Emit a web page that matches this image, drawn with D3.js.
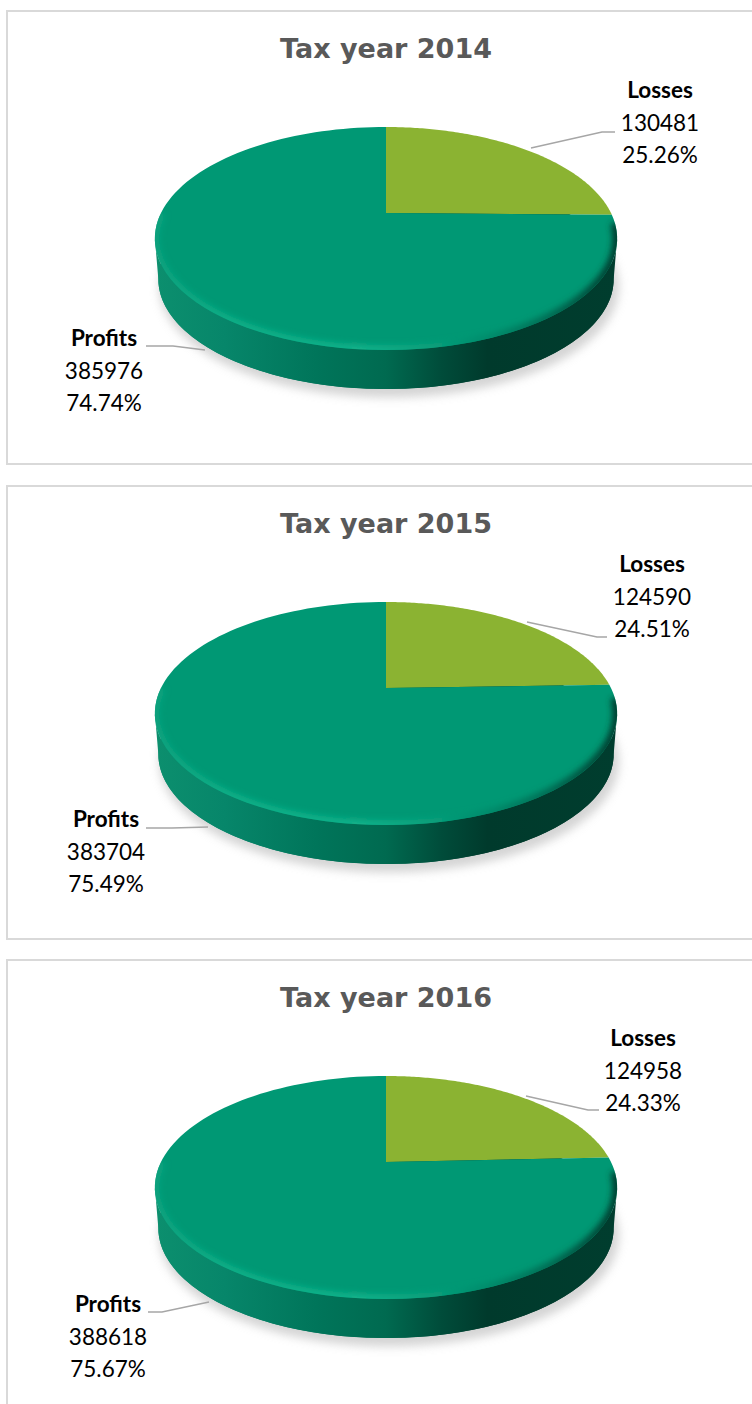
<!DOCTYPE html>
<html><head><meta charset="utf-8">
<script src="https://cdn.jsdelivr.net/npm/d3@7"></script>
<style>html,body{margin:0;padding:0;background:#fff;overflow:hidden}svg{display:block}</style>
</head><body><svg id="c" width="752" height="1404"></svg>
<script>
// ---- data
const titles = ["Tax year 2014", "Tax year 2015", "Tax year 2016"];
const categories = ["Losses", "Profits"];
const lossValues = [130481, 124590, 124958];
const profitValues = [385976, 383704, 388618];
const lossColor = "#8bb332";
const profitColor = "#009874";

// ---- layout
const panelTop = [11, 486, 960];
const labelLayout = [
  {lossX:660, lossY:98,  profitX:104, profitY:346,
   lossLine:[[531,148],[602,132],[615,132]], profitLine:[[146,346],[173,346],[205,350]]},
  {lossX:652, lossY:572, profitX:106, profitY:827,
   lossLine:[[527,622],[597,637],[607,637]], profitLine:[[146,828],[172,828],[208,827]]},
  {lossX:643, lossY:1046,profitX:108, profitY:1312,
   lossLine:[[526,1096],[588,1110],[599,1110]], profitLine:[[148,1312],[162,1312],[209,1302]]}
];
const W = 752;
const svg = d3.select("#c");
const defs = svg.append("defs");

// perspective projection of the unit disc (angle clockwise from the top)
const cx = 386, apexOffset = 213, persp = 0.229, radX = 225, radY = 105.7;
function project(theta, scale = 1, dy = 0) {
  const u = Math.sin(theta), v = Math.cos(theta), w = 1 + persp * v;
  return [cx + scale * radX * u / w, apexOffset + dy - scale * radY * v / w];
}
const line = d3.line();
const arcPts = (a0, a1, scale, dy) => d3.range(0, 121).map(i => project(a0 + (a1 - a0) * i / 120, scale, dy));
const TAU = Math.PI * 2;

// gradients
function hGrad(id, stops) {
  const g = defs.append("linearGradient").attr("id", id).attr("gradientUnits", "userSpaceOnUse")
    .attr("x1", 155).attr("x2", 617).attr("y1", 0).attr("y2", 0);
  stops.forEach(s => g.append("stop").attr("offset", s[0]).attr("stop-color", s[1]));
}
hGrad("side", [[0,"#0c8f6e"],[0.15,"#07866a"],[0.35,"#00755a"],[0.5,"#006a50"],[0.62,"#004c3a"],[0.72,"#003a2c"],[1,"#003d2e"]]);
hGrad("rim", [[0,"#0aa37f"],[0.15,"#0eb088"],[0.45,"#12b48c"],[0.6,"#08a07c"],[0.72,"#008a6a"],[0.85,"#006a52"],[1,"#00382b"]]);
[["b1",1.2],["b3",3],["b5",5]].forEach(([id, s]) =>
  defs.append("filter").attr("id", id).attr("x","-20%").attr("y","-20%").attr("width","140%").attr("height","140%")
    .append("feGaussianBlur").attr("stdDeviation", s));

const pie = d3.pie().sort(null).startAngle(0).endAngle(TAU);
const pct = d3.format(".2f");

titles.forEach((title, i) => {
  const top = panelTop[i];
  const g = svg.append("g").attr("transform", `translate(0,${top - panelTop[0]})`);
  const values = [lossValues[i], profitValues[i]];
  const total = d3.sum(values);
  const arcs = pie(values);
  const L = labelLayout[i];

  // frame (runs off the right edge, and the bottom for the last)
  g.append("rect").attr("x", 7).attr("y", 11).attr("width", W + 20).attr("height", i === 2 ? 600 : 453)
    .attr("fill", "#fff").attr("stroke", "#d9d9d9").attr("stroke-width", 2);

  g.append("text").attr("x", cx).attr("y", 58).attr("text-anchor", "middle")
    .attr("font-family", "'DejaVu Sans'").attr("font-weight", 700).attr("font-size", 27).attr("fill", "#595959").text(title);

  const disc = (scale, dy) => line(arcPts(0, TAU, scale, dy)) + "Z";

  // shadow
  g.append("path").attr("d", disc(0.995, 48)).attr("fill", "#b8b8b8").attr("opacity", 0.6)
    .attr("transform", "translate(3,0)").attr("filter", "url(#b5)");

  // side wall: union of bottom disc and hull from top disc
  g.append("path").attr("d", disc(0.985, 41)).attr("fill", "url(#side)");
  g.append("path").attr("d", line(arcPts(Math.PI / 2 + 0.23, Math.PI * 1.5 - 0.23, 1, 0)
      .concat(arcPts(Math.PI * 1.5 - 0.23, Math.PI / 2 + 0.23, 0.985, 41))) + "Z").attr("fill", "url(#side)");

  // top face wedges
  const clipId = "face" + i;
  defs.append("clipPath").attr("id", clipId).append("path").attr("d", disc(1, 0));
  arcs.forEach((a, k) => {
    const pts = [[cx, apexOffset]].concat(arcPts(a.startAngle, a.endAngle, 1, 0));
    g.append("path").attr("d", line(pts) + "Z").attr("fill", k === 0 ? lossColor : profitColor);
  });

  // bevel highlight along the front rim
  g.append("g").attr("clip-path", `url(#${clipId})`)
    .append("path").attr("d", line(arcPts(Math.PI * 0.53, Math.PI * 1.5, 1, 0)))
    .attr("fill", "none").attr("stroke", "url(#rim)").attr("stroke-width", 9).attr("filter", "url(#b3)");

  // leader lines
  const shift = panelTop[0] - top;
  [L.lossLine, L.profitLine].forEach(p => {
    g.append("path").attr("d", line(p.map(d => [d[0], d[1] + shift])))
      .attr("fill", "none").attr("stroke", "#a6a6a6").attr("stroke-width", 1.4);
  });

  // labels
  const label = (name, value, x, y) => {
    const t = g.append("text").attr("text-anchor", "middle").attr("font-family", "Lato").attr("font-size", 22.5).attr("fill", "#000");
    t.append("tspan").attr("x", x).attr("y", y + shift).attr("font-weight", 700).text(name);
    t.append("tspan").attr("x", x).attr("y", y + shift + 32.5).text(value);
    t.append("tspan").attr("x", x).attr("y", y + shift + 65).text(pct(value / total * 100) + "%");
  };
  label(categories[0], values[0], L.lossX, L.lossY);
  label(categories[1], values[1], L.profitX, L.profitY);
});
</script></body></html>
